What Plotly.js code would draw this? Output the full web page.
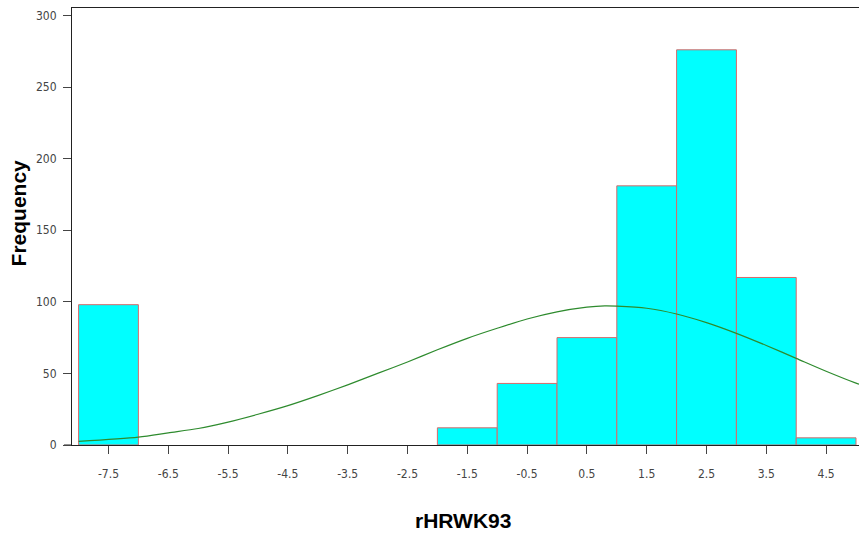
<!DOCTYPE html>
<html>
<head>
<meta charset="utf-8">
<script src="https://cdn.plot.ly/plotly-3.0.1.min.js"></script>
<style>html,body{margin:0;padding:0;background:#fff;}#chart{width:859px;height:536px;}</style>
</head>
<body>
<div id="chart"></div>
<script>
// Histogram bins (centres) and frequencies
const binCentres = [-7.5, -6.5, -5.5, -4.5, -3.5, -2.5, -1.5, -0.5, 0.5, 1.5, 2.5, 3.5, 4.5];
const frequencies = [98, 0, 0, 0, 0, 0, 12, 43, 75, 181, 276, 117, 5];

// Fitted normal curve
const curveX = [-8, -7, -6.5, -6, -5.5, -5, -4.5, -4, -3.5, -3, -2.5, -2, -1.5, -1, -0.5, 0, 0.5, 0.8, 1, 1.5, 2, 2.5, 3, 3.5, 4, 4.5, 5, 5.05];
const curveY = [2.5, 5.5, 8.5, 11.5, 16, 21.5, 27.5, 34.5, 42, 50, 58, 66.5, 74.5, 81.5, 88, 93, 96.3, 97.2, 97, 95.5, 91.5, 85.5, 78, 69.5, 60.5, 51.5, 43.2, 42.5];

// Tick labels
const xTickVals = [-7.5, -6.5, -5.5, -4.5, -3.5, -2.5, -1.5, -0.5, 0.5, 1.5, 2.5, 3.5, 4.5];
const xTickText = ["-7.5", "-6.5", "-5.5", "-4.5", "-3.5", "-2.5", "-1.5", "-0.5", "0.5", "1.5", "2.5", "3.5", "4.5"];
const yTickVals = [0, 50, 100, 150, 200, 250, 300];
const yTickText = ["0", "50", "100", "150", "200", "250", "300"];

const tickFont = {family: "'Liberation Sans Narrow', 'DejaVu Sans Condensed', 'Liberation Sans', sans-serif", size: 12, color: "#444"};

const data = [
  {
    type: "bar",
    x: binCentres,
    y: frequencies,
    width: 1,
    marker: {color: "#00FFFF", line: {color: "#d86a6a", width: frequencies.map(v => v > 0 ? 1 : 0)}},
    hoverinfo: "x+y"
  },
  {
    type: "scatter",
    mode: "lines",
    x: curveX,
    y: curveY,
    line: {color: "#2e8b2e", width: 1.2, shape: "spline", smoothing: 0.8},
    hoverinfo: "skip"
  }
];

const layout = {
  width: 859,
  height: 536,
  margin: {l: 72, r: 0, t: 8, b: 91, pad: 0},
  paper_bgcolor: "#fff",
  plot_bgcolor: "#fff",
  showlegend: false,
  bargap: 0,
  xaxis: {
    range: [-8.11, 5.05],
    tickmode: "array",
    tickvals: xTickVals,
    ticktext: xTickText,
    ticks: "outside",
    ticklen: 8,
    tickwidth: 1,
    tickcolor: "#444",
    ticklabelstandoff: 10,
    showline: true,
    linecolor: "#222",
    linewidth: 1,
    mirror: true,
    showgrid: false,
    zeroline: false,
    tickfont: tickFont
  },
  yaxis: {
    range: [0, 305.2],
    tickmode: "array",
    tickvals: yTickVals,
    ticktext: yTickText,
    ticks: "outside",
    ticklen: 8,
    tickwidth: 1,
    tickcolor: "#444",
    ticklabelstandoff: 4,
    showline: true,
    linecolor: "#222",
    linewidth: 1,
    showgrid: false,
    zeroline: false,
    tickfont: tickFont
  },
  shapes: [
    {type: "line", xref: "paper", yref: "y", x0: -0.0102, x1: 0, y0: 0, y1: 0, line: {color: "#222", width: 1}}
  ],
  annotations: [
    {text: "rHRWK93", xref: "paper", yref: "paper", x: 0.497, y: -0.173, xanchor: "center", yanchor: "middle",
     showarrow: false, font: {family: "'Liberation Sans', Arial, sans-serif", size: 21, color: "#000", weight: "bold"}},
    {text: "Frequency", xref: "paper", yref: "paper", x: -0.0686, y: 0.53, xanchor: "center", yanchor: "middle",
     textangle: -90, showarrow: false, font: {family: "'Liberation Sans', Arial, sans-serif", size: 21, color: "#000", weight: "bold"}}
  ]
};

Plotly.newPlot("chart", data, layout, {displayModeBar: false, staticPlot: true});
</script>
</body>
</html>
